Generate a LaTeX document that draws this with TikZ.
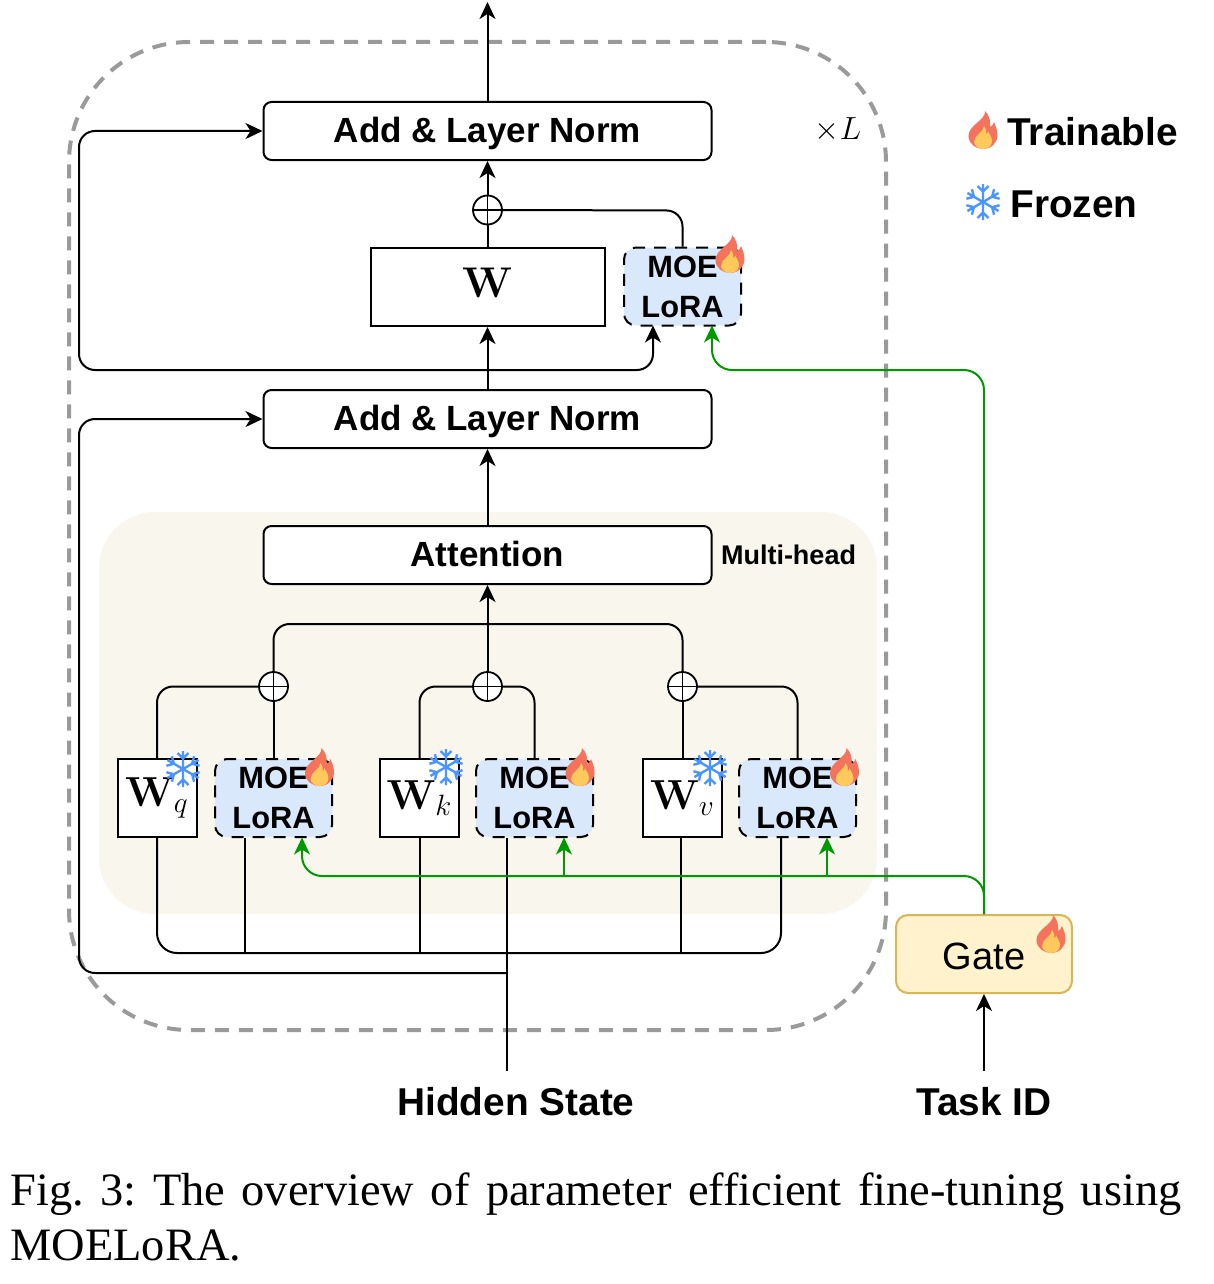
\documentclass[tikz,border=0pt]{standalone}
\usepackage{fix-cm}
\usepackage{amsmath}
\usepackage[no-math]{fontspec}
\setmainfont{Liberation Sans}
\newfontfamily\capfont{Liberation Serif}
\usepackage{tikz}
\definecolor{panelbeige}{HTML}{F8F6ED}
\definecolor{loomblue}{HTML}{DAE8FC}
\definecolor{gatefill}{HTML}{FFF2CC}
\definecolor{gateline}{HTML}{D6B656}
\definecolor{wiregreen}{HTML}{009900}
\definecolor{loopgray}{HTML}{9A9A9A}
\definecolor{flameout}{HTML}{F4735C}
\definecolor{flamein}{HTML}{FFC95C}
\definecolor{flakeblue}{HTML}{4A95FF}
\usetikzlibrary{arrows.meta, positioning, calc}

\begin{document}
\begin{tikzpicture}[
    x=0.5pt, y=-0.5pt,
    >={Stealth[length=8.5pt, width=8pt, inset=2.5pt]},
    wire/.style={line width=1pt, black},
    roundwire/.style={wire, rounded corners=8pt},
    gwire/.style={line width=1pt, wiregreen, rounded corners=10pt},
    normbox/.style={rectangle, draw, fill=white, line width=1pt, rounded corners=4pt, minimum width=224pt, minimum height=29pt, inner sep=0pt, text height=13pt, text depth=1.8pt, font=\fontsize{17.5}{20}\selectfont\bfseries},
    wbox/.style={rectangle, draw, fill=white, line width=1pt, minimum width=39.5pt, minimum height=39pt, inner sep=0pt, font=\fontsize{21}{22}\selectfont},
    lorabox/.style={rectangle, draw, dashed, dash pattern=on 6pt off 4.5pt, fill=loomblue, line width=1pt, rounded corners=6pt, minimum width=58.5pt, minimum height=39pt, inner sep=0pt, align=center, font=\fontsize{15.4}{20}\selectfont\bfseries},
    oplus/.style={circle, draw, fill=white, line width=0.9pt, minimum size=14.5pt, inner sep=0pt, path picture={\draw[line width=0.7pt] (path picture bounding box.north) -- (path picture bounding box.south) (path picture bounding box.west) -- (path picture bounding box.east);}},
    biglabel/.style={inner sep=0pt, font=\fontsize{19.4}{21}\selectfont\bfseries},
    flame/.pic={
        \fill[flameout] (2,-19) .. controls (3,-10) and (-14.5,-5) .. (-14.5,6) .. controls (-14.5,14) and (-7,19) .. (0,19) .. controls (8,19) and (14.5,13) .. (14.5,5) .. controls (14.5,-1) and (12,-5) .. (11,-8) .. controls (10,-5) and (9,-4) .. (7,-3) .. controls (8,-9) and (6,-15) .. (2,-19) -- cycle;
        \fill[flamein] (1,-4) .. controls (1,2) and (-9,5) .. (-9,12) .. controls (-9,16) and (-4,19) .. (0,19) .. controls (5,19) and (9,16) .. (9,11) .. controls (9,7) and (6,4) .. (5,1) .. controls (5,3) and (4,4) .. (3,4) .. controls (4,2) and (3,-1) .. (1,-4) -- cycle;
    },
    flake/.pic={
        \foreach \a in {0,60,...,300}
            \draw[flakeblue, line width=1.2pt, rotate=\a] (0,0) -- (0,-18) (-5.5,-16) -- (0,-10.5) -- (5.5,-16);
    }
]
    \useasboundingbox (0,0) rectangle (1214,1284);

    % frames
    \node[rectangle, fill=panelbeige, rounded corners=28pt, minimum width=389pt, minimum height=201pt, inner sep=0pt] (panel) at (488,713) {};
    \node[rectangle, draw=loopgray, line width=2pt, dash pattern=on 7pt off 5pt, rounded corners=60pt, minimum width=408.5pt, minimum height=494pt, inner sep=0pt] (loopframe) at (477.5,536) {};

    % blocks
    \node[normbox] (normT) at (487.5,131) {Add \& Layer Norm};
    \node[normbox] (normB) at (487.5,419) {Add \& Layer Norm};
    \node[normbox] (attn) at (487.5,555) {Attention};
    \node[rectangle, draw, fill=white, line width=1pt, minimum width=117pt, minimum height=39pt, inner sep=0pt, text depth=4pt, font=\fontsize{21.5}{23}\selectfont] (wmain) at (487.5,287) {$\mathbf{W}$};
    \node[lorabox] (loraT) at (682.5,286.5) {MOE\\LoRA};

    \node[wbox] (wq) at (157,798) {$\mathbf{W}_{q}$};
    \node[lorabox] (loraA) at (273.5,798) {MOE\\LoRA};
    \node[wbox] (wk) at (419.5,798) {$\mathbf{W}_{k}$};
    \node[lorabox] (loraB) at (534.5,798) {MOE\\LoRA};
    \node[wbox] (wv) at (682.5,798) {$\mathbf{W}_{v}$};
    \node[lorabox] (loraC) at (797.5,798) {MOE\\LoRA};

    \node[oplus] (oplusT) at (487.5,210) {};
    \node[oplus] (oplusA) at (273.5,686.5) {};
    \node[oplus] (oplusB) at (487.5,686.5) {};
    \node[oplus] (oplusC) at (682.5,686.5) {};

    \node[rectangle, draw=gateline, fill=gatefill, line width=1pt, rounded corners=6pt, minimum width=88pt, minimum height=39pt, inner sep=0pt, text height=15.6pt, font=\fontsize{19}{20}\selectfont] (gate) at (984,954) {Gate};

    % labels
    \node[inner sep=0pt, font=\fontsize{13.5}{15}\selectfont\bfseries] (headlabel) at (788.5,555) {Multi-head};
    \node[inner sep=0pt, font=\fontsize{16}{18}\selectfont] (timeslabel) at (838,130) {$\times L$};
    \node[biglabel] (hidden) at (516,1102) {Hidden State};
    \node[biglabel] (task) at (984,1102) {Task ID};
    \node[biglabel, anchor=west] (trainlabel) at (1007,132) {Trainable};
    \node[biglabel, anchor=west] (frozenlabel) at (1010,204) {Frozen};

    % connector ends
    \coordinate (outtop) at (487.5,2);
    \coordinate (loraTin) at (653,325.5);
    \coordinate (loraTgate) at (712,325.5);
    \coordinate (normBtap) at (487.5,370);
    \coordinate (loraAout) at (245,837.5);
    \coordinate (loraBout) at (507,837.5);
    \coordinate (loraCout) at (781,837.5);
    \coordinate (wvout) at (681,837.5);
    \coordinate (hiddenin) at (507,1071);
    \coordinate (hiddentap) at (507,973);
    \coordinate (taskout) at (984,1071);
    \coordinate (loraAgate) at (302,837.5);
    \coordinate (loraBgate) at (564,837.5);
    \coordinate (loraCgate) at (827,837.5);

    % upper block
    \draw[wire, ->] (normT.north) -- (outtop);
    \draw[wire, ->] (oplusT.north) -- (normT.south);
    \draw[wire] (wmain.north) -- (oplusT.south);
    \draw[roundwire] (oplusT.east) -- (682.5,210.5) -- (loraT.north);
    \draw[wire, ->] (normB.north) -- (wmain.south);
    \draw[roundwire, ->] (normBtap) -- (79,370) -- (79,131) -- (normT.west);
    \draw[roundwire, ->] (normBtap) -- (653,370) -- (loraTin);

    % attention
    \draw[wire, ->] (attn.north) -- (normB.south);
    \draw[wire, ->] (oplusB.north) -- (attn.south);
    \draw[roundwire] (oplusA.north) -- (273.5,624) -- (682.5,624) -- (oplusC.north);
    \draw[roundwire] (wq.north) |- (oplusA.west);
    \draw[wire] (loraA.north) -- (oplusA.south);
    \draw[roundwire] (wk.north) |- (oplusB.west);
    \draw[roundwire] (loraB.north) |- (oplusB.east);
    \draw[wire] (wv.north) -- (oplusC.south);
    \draw[roundwire] (loraC.north) |- (oplusC.east);

    % hidden state
    \draw[roundwire, rounded corners=10pt] (wq.south) -- (157,953) -- (781,953) -- (loraCout);
    \draw[wire] (loraAout) -- (245,953);
    \draw[wire] (wk.south) -- (419.5,953);
    \draw[wire] (wvout) -- (681,953);
    \draw[wire] (loraBout) -- (hiddenin);
    \draw[roundwire, ->] (hiddentap) -- (79,973) -- (79,419) -- (normB.west);
    \draw[wire, ->] (taskout) -- (gate.south);

    % gate
    \draw[gwire, ->] (gate.north) -- (984,370) -- (712,370) -- (loraTgate);
    \draw[gwire, ->] (gate.north) -- (984,876) -- (302,876) -- (loraAgate);
    \draw[gwire, ->] (564,876) -- (loraBgate);
    \draw[gwire, ->] (827,876) -- (loraCgate);

    % icons
    \pic at (730,254) {flame};
    \pic at (319.5,767) {flame};
    \pic at (580,767) {flame};
    \pic at (844.5,767) {flame};
    \pic at (1051,934) {flame};
    \pic at (983,130) {flame};
    \pic at (183,769) {flake};
    \pic at (446,767) {flake};
    \pic at (710,768) {flake};
    \pic at (983,202) {flake};

    % caption
    \node[anchor=north west, inner sep=0pt, text width=585.5pt, align=justify, font=\fontsize{23.2}{27.5}\selectfont\capfont\frenchspacing] (caption) at (10,1172) {Fig. 3: The overview of parameter efficient fine-tuning using MOELoRA.};
\end{tikzpicture}
\end{document}
